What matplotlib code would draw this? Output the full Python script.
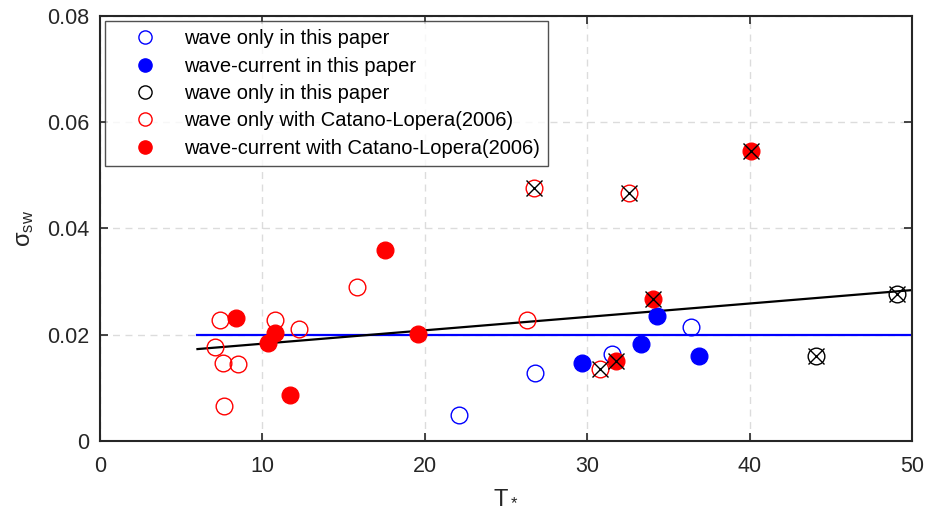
import matplotlib
matplotlib.use('Agg')
import matplotlib.pyplot as plt
from matplotlib.lines import Line2D

plt.rcParams['font.family'] = ['Liberation Sans', 'DejaVu Sans']
plt.rcParams['mathtext.fontset'] = 'custom'
plt.rcParams['mathtext.rm'] = 'Liberation Sans'

# wave only in this paper (blue open)
wo_this_x = [22.1, 26.8, 31.5, 36.4]
wo_this_y = [0.0049, 0.0128, 0.0164, 0.0214]

# wave-current in this paper (blue filled)
wc_this_x = [29.7, 33.3, 34.3, 36.9]
wc_this_y = [0.0146, 0.0183, 0.0236, 0.0160]

# black open (this paper, crossed)
wo_black_x = [49.1, 44.1]
wo_black_y = [0.0277, 0.0160]

# wave only with Catano-Lopera (red open)
wo_cl_x = [7.4, 7.1, 7.55, 8.5, 7.65, 10.8, 12.25, 15.8, 26.3, 26.7, 32.6, 30.8]
wo_cl_y = [0.0228, 0.0177, 0.0147, 0.0145, 0.0066, 0.0228, 0.0211, 0.0290, 0.0228, 0.0477, 0.0466, 0.0135]

# wave-current with Catano-Lopera (red filled)
wc_cl_x = [8.35, 10.8, 10.35, 11.7, 19.6, 17.55, 34.05, 31.8, 40.1]
wc_cl_y = [0.0232, 0.0203, 0.0185, 0.0087, 0.0202, 0.0360, 0.0267, 0.0150, 0.0546]

# points marked with a black cross
cross_x = [26.7, 32.6, 30.8, 34.05, 31.8, 40.1, 49.1, 44.1]
cross_y = [0.0477, 0.0466, 0.0135, 0.0267, 0.0150, 0.0546, 0.0277, 0.0160]

# fitted lines
blue_line_x = [6, 50]
blue_line_y = [0.020, 0.020]
black_line_x = [6, 50]
black_line_y = [0.0173, 0.0284]

fig = plt.figure(figsize=(9.27, 5.13), dpi=100)
ax = fig.add_axes([0.1079, 0.1404, 0.8759, 0.8284])

ax.plot(blue_line_x, blue_line_y, color='#0000ff', lw=1.6, zorder=2)
ax.plot(black_line_x, black_line_y, color='black', lw=1.6, zorder=2)

ms = 12
ax.plot(wo_this_x, wo_this_y, 'o', mfc='none', mec='#0000ff', ms=ms, mew=1, zorder=3)
ax.plot(wc_this_x, wc_this_y, 'o', mfc='#0000ff', mec='#0000ff', ms=ms, zorder=3)
ax.plot(wo_black_x, wo_black_y, 'o', mfc='none', mec='black', ms=ms, mew=1, zorder=3)
ax.plot(wo_cl_x, wo_cl_y, 'o', mfc='none', mec='#ff0000', ms=ms, mew=1, zorder=3)
ax.plot(wc_cl_x, wc_cl_y, 'o', mfc='#ff0000', mec='#ff0000', ms=ms, zorder=3)
ax.plot(cross_x, cross_y, 'x', color='black', ms=ms - 1, mew=1, zorder=4)

ax.set_xlim(0, 50)
ax.set_ylim(0, 0.08)
ax.set_xticks([0, 10, 20, 30, 40, 50])
ax.set_yticks([0, 0.02, 0.04, 0.06, 0.08])
ax.set_yticklabels(['0', '0.02', '0.04', '0.06', '0.08'])
ax.tick_params(direction='in', length=6, width=1.2, labelsize=15.5, colors='#262626',
               top=True, right=True)
ax.tick_params(axis='x', pad=11)
ax.tick_params(axis='y', pad=8)
for s in ax.spines.values():
    s.set_linewidth(1.5)
    s.set_color('#262626')
ax.grid(True, color='#dcdcdc', ls=(0, (5, 4)), lw=1)
ax.set_axisbelow(True)

ax.set_xlabel('$\\mathregular{T_*}$', fontsize=17, color='#262626', labelpad=6)
ax.set_ylabel('$\\mathregular{σ_{sw}}$', fontsize=17, color='#262626', labelpad=8)

handles = [
    Line2D([], [], ls='none', marker='o', mfc='none', mec='#0000ff', ms=9.5),
    Line2D([], [], ls='none', marker='o', mfc='#0000ff', mec='#0000ff', ms=9.5),
    Line2D([], [], ls='none', marker='o', mfc='none', mec='black', ms=9.5),
    Line2D([], [], ls='none', marker='o', mfc='none', mec='#ff0000', ms=9.5),
    Line2D([], [], ls='none', marker='o', mfc='#ff0000', mec='#ff0000', ms=9.5),
]
labels = ['wave only in this paper', 'wave-current in this paper', 'wave only in this paper',
          'wave only with Catano-Lopera(2006)', 'wave-current with Catano-Lopera(2006)']
leg = ax.legend(handles, labels, loc='upper left', fontsize=14.5, frameon=True, fancybox=False,
                edgecolor='#262626', handletextpad=0.3, handlelength=3.2, labelspacing=0.42,
                borderaxespad=0.25, borderpad=0.4)
leg.get_frame().set_linewidth(1)

fig.savefig('out.png', dpi=100)
